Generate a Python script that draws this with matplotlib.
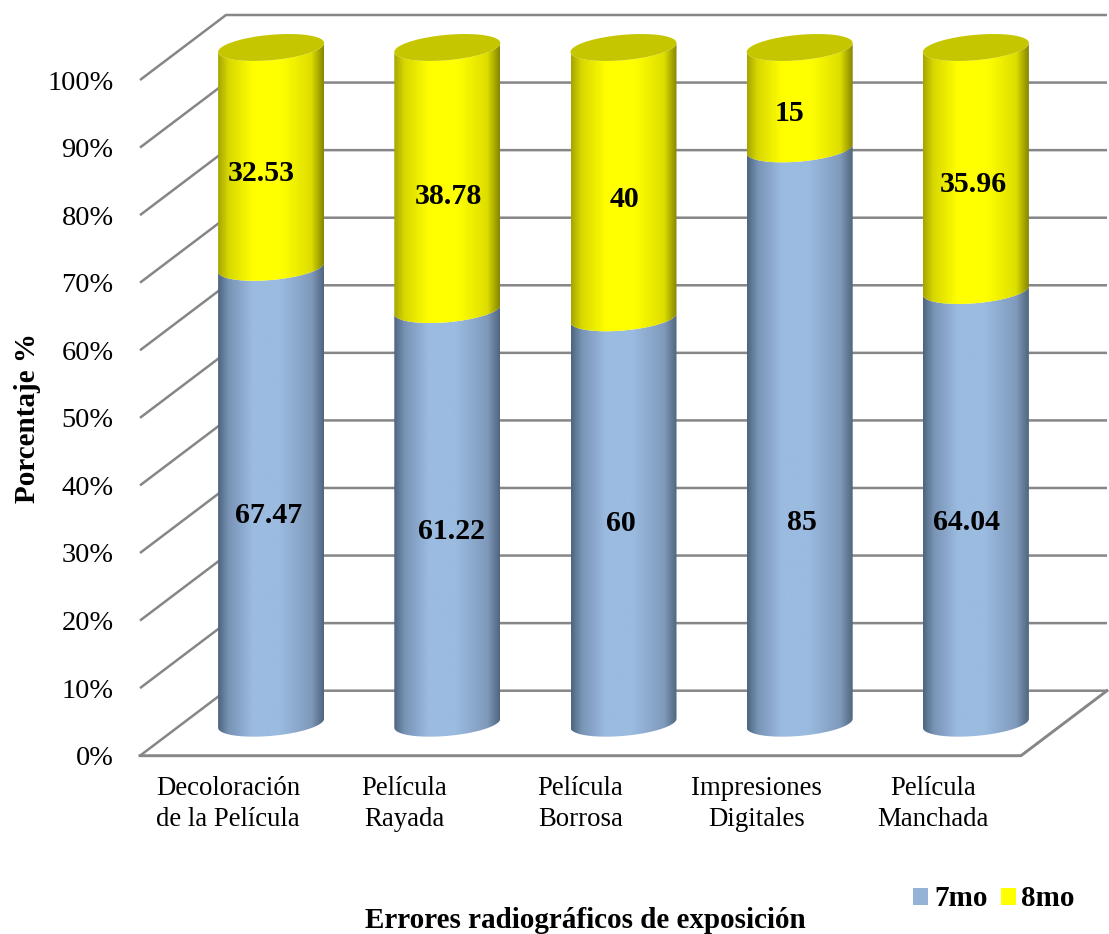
import numpy as np
import matplotlib
matplotlib.use("Agg")
import matplotlib.pyplot as plt
from matplotlib.colors import LinearSegmentedColormap
from matplotlib.patches import Patch, Polygon

categories = ["Decoloración\nde la Película", "Película\nRayada", "Película\nBorrosa",
              "Impresiones\nDigitales", "Película\nManchada"]
series_7mo = [67.47, 61.22, 60, 85, 64.04]
series_8mo = [32.53, 38.78, 40, 15, 35.96]
labels_7mo = ["67.47", "61.22", "60", "85", "64.04"]
labels_8mo = ["32.53", "38.78", "40", "15", "35.96"]
y_ticks = list(range(0, 101, 10))

# hand placed label nudges of the original, in pixels
nudge_7mo = [(-2, -20), (4, -15), (-3, -3), (2, -86), (-9, -16)]
nudge_8mo = [(-10, -16), (1, -18), (1, -17), (-10, -15), (-3, -16)]

W, H = 1109, 934
L, R, B, T = 140, 1108, 755.7, 14
fig = plt.figure(figsize=(W / 100, H / 100), dpi=100, facecolor="white")
ax = fig.add_axes([L / W, 1 - B / H, (R - L) / W, (B - T) / H])
plt.rcParams["font.family"] = ["Liberation Serif"]
SERIF = "Liberation Serif"

px_x = 176.2          # pixels per category
px_y = 6.757          # pixels per percent
depth_x = 86 / px_x
depth_y = 65 / px_y
half_w = 53 / px_x
skew = 4.5 / px_y
minor = 12.7 / px_y
GRID = "#868686"

for v in y_ticks:
    ax.plot([-0.5, -0.5 + depth_x, 4.5 + depth_x], [v, v + depth_y, v + depth_y],
            color=GRID, lw=1.8, zorder=1, clip_on=False, solid_capstyle="butt")
ax.plot([-0.5, 4.5, 4.5 + depth_x], [0, 0, depth_y], color=GRID, lw=2.1, zorder=1, clip_on=False)

blue = LinearSegmentedColormap.from_list("b", [(0, "#4d6480"), (.1, "#7893b5"), (.33, "#9bbbe0"),
                                               (.58, "#9bbbe0"), (.88, "#7f9abb"), (1, "#50667f")])
yellow = LinearSegmentedColormap.from_list("y", [(0, "#a6a600"), (.1, "#d8d800"), (.33, "#ffff00"),
                                                 (.6, "#ffff00"), (.88, "#dede00"), (1, "#868600")])
grad = np.linspace(0, 1, 256)[None, :]


def front_arc(i, value):
    t = np.linspace(np.pi, 2 * np.pi, 80)
    cx = i + depth_x / 2
    cy = value + depth_y / 2
    return cx + half_w * np.cos(t), cy + skew * np.cos(t) + minor * np.sin(t)


def segment(i, v0, v1, cmap, z):
    x0, y0 = front_arc(i, v0)
    x1, y1 = front_arc(i, v1)
    poly = np.vstack([np.c_[x0, y0], np.c_[x1, y1][::-1]])
    patch = Polygon(poly, closed=True, transform=ax.transData, facecolor="none", edgecolor="none")
    ax.add_patch(patch)
    im = ax.imshow(grad, cmap=cmap, aspect="auto", zorder=z, interpolation="bilinear",
                   extent=[x0[0], x0[-1], v0 - 5, v1 + 20])
    im.set_clip_path(patch)


for i, (a, b) in enumerate(zip(series_7mo, series_8mo)):
    segment(i, 0, a, blue, 2)
    segment(i, a, a + b, yellow, 3)
    t = np.linspace(0, 2 * np.pi, 120)
    cx = i + depth_x / 2
    cy = a + b + depth_y / 2
    ax.fill(cx + half_w * np.cos(t), cy + skew * np.cos(t) + minor * np.sin(t),
            color="#c6c600", zorder=4, lw=0)

    ax.annotate(labels_7mo[i], xy=(cx, a / 2 + depth_y / 2), xytext=nudge_7mo[i], textcoords="offset pixels",
                ha="center", va="center", fontsize=21.5, fontweight="bold", family=SERIF, zorder=6)
    ax.annotate(labels_8mo[i], xy=(cx, a + b / 2 + depth_y / 2), xytext=nudge_8mo[i], textcoords="offset pixels",
                ha="center", va="center", fontsize=21.5, fontweight="bold", family=SERIF, zorder=6)

ax.set_xlim(-0.5, 4.5 + (R - 1021) / px_x)
ax.set_ylim(0, (B - T) / px_y)
for s in ax.spines.values():
    s.set_visible(False)
ax.patch.set_visible(False)
ax.set_yticks(y_ticks, [f"{v}%" for v in y_ticks], family=SERIF, fontsize=20.4)
ax.set_xticks(range(5), categories, family=SERIF, fontsize=19.3, linespacing=1.32)
ax.tick_params(axis="y", length=0, pad=19, colors="black")
ax.tick_params(axis="x", length=0, pad=14.5, colors="black")

fig.text(28 / W, 1 - 418 / H, "Porcentaje %", rotation=90, ha="center", va="center",
         family=SERIF, fontweight="bold", fontsize=21)
fig.text(585 / W, 1 - 920 / H, "Errores radiográficos de exposición", ha="center", va="center",
         family=SERIF, fontweight="bold", fontsize=21)

handles = [Patch(facecolor="#95b3d7", label="7mo"), Patch(facecolor="#ffff00", label="8mo")]
fig.legend(handles=handles, ncol=2, frameon=False, loc="center right",
           bbox_to_anchor=(1075 / W, 1 - 899 / H), borderpad=0, borderaxespad=0,
           prop={"family": SERIF, "weight": "bold", "size": 21},
           handlelength=0.52, handleheight=0.52, handletextpad=0.2, columnspacing=0.45)

fig.savefig("out.png", dpi=100, facecolor="white")
